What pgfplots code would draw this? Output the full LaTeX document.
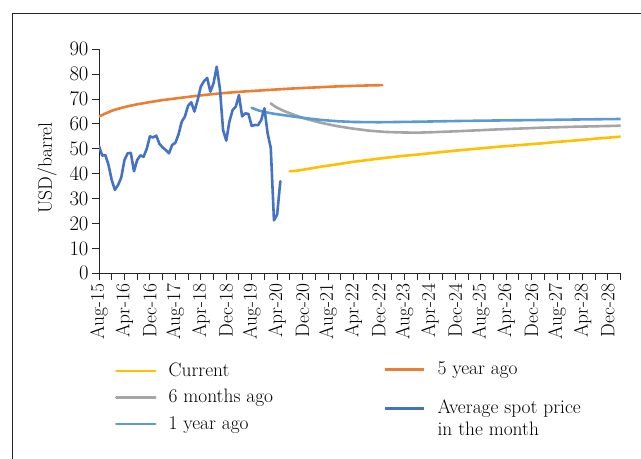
\documentclass[border=0pt]{standalone}
\usepackage{pgfplots}
\pgfplotsset{compat=1.18}
\definecolor{cur}{HTML}{FFC000}
\definecolor{sixm}{HTML}{A5A5A5}
\definecolor{oney}{HTML}{5B9BD5}
\definecolor{fivey}{HTML}{ED7D31}
\definecolor{spot}{HTML}{4472C4}
\newcommand{\bigf}{\fontsize{19.5}{21.5}\selectfont}
\begin{document}
\begin{tikzpicture}
\useasboundingbox (0,0) rectangle (641bp,-459bp);
\draw[line width=1.3bp, black!85] (12.3bp,-460bp) -- (12.3bp,-13.3bp) -- (642bp,-13.3bp);
\begin{axis}[
  at={(99bp,-273.3bp)}, anchor=south west,
  scale only axis, width=521.7bp, height=224bp,
  xmin=0, xmax=164, ymin=0, ymax=90,
  axis lines=left, axis line style={-, black!85, line width=1bp},
  xtick={0,8,...,160}, minor xtick={4,12,...,164},
  xticklabels={Aug-15,Apr-16,Dec-16,Aug-17,Apr-18,Dec-18,Aug-19,Apr-20,Dec-20,Aug-21,Apr-22,Dec-22,Aug-23,Apr-24,Dec-24,Aug-25,Apr-26,Dec-26,Aug-27,Apr-28,Dec-28},
  ytick={0,10,...,90},
  tick align=outside, major tick length=7bp, minor tick length=7bp,
  tick style={black!85, line width=1bp},
  tick label style={font=\bigf},
  xticklabel style={rotate=90, anchor=east},
  ylabel={USD/barrel},
  ylabel style={font=\bigf, at={(axis description cs:-0.0997,0.47)}, anchor=center, rotate=0},
  legend cell align=left,
  legend image code/.code={\draw[#1, line width=2.6bp] (0bp,0bp) -- (39bp,0bp);},
  legend style={at={(0.0307,-0.396)}, anchor=north west, draw=none, fill=none,
    inner sep=0pt, outer sep=0pt, row sep=8.5bp, column sep=12bp, font=\bigf,
    nodes={inner sep=0pt, text height=14bp, text depth=4bp}},
  every axis plot/.append style={line width=2.6bp, line join=round, line cap=round},
]
\addplot[cur] coordinates {(60,41.0)(62,41.2)(66,42.0)(70,42.9)(75,43.8)(80,44.8)(85,45.6)(90,46.4)(95,47.1)(100,47.7)(106,48.5)(113,49.4)(120,50.2)(125,50.8)(132,51.5)(139,52.2)(145,52.9)(150,53.4)(157,54.2)(164,54.9)};
\addlegendentry{Current}
\addplot[sixm] coordinates {(54,68.3)(55,67.3)(56,66.5)(58,65.3)(60,64.3)(63,62.9)(66,61.7)(70,60.4)(75,59.1)(80,58.1)(85,57.3)(90,56.8)(95,56.6)(100,56.5)(105,56.7)(113,57.1)(125,57.8)(139,58.5)(150,58.9)(164,59.3)};
\addlegendentry{6 months ago}
\addplot[oney] coordinates {(48,66.5)(50,65.5)(52,64.8)(55,64.1)(60,63.2)(65,62.3)(70,61.6)(75,61.1)(80,60.8)(88,60.7)(100,60.9)(113,61.2)(125,61.4)(139,61.6)(150,61.8)(164,62.0)};
\addlegendentry{1 year ago}
\addplot[fivey, forget plot] coordinates {(0,63.0)(2,64.2)(4,65.3)(6,66.1)(9,67.1)(12,67.9)(16,68.8)(20,69.6)(25,70.4)(30,71.2)(35,71.9)(40,72.5)(45,73.0)(50,73.4)(55,73.8)(60,74.2)(65,74.5)(70,74.8)(75,75.1)(80,75.3)(85,75.5)(89,75.6)};
\addplot[spot, forget plot] coordinates {(0,51.2)(1,47.3)(2,47.5)(3,43.5)(4,37.5)(5,33.5)(6,35.5)(7,38.5)(8,45.5)(9,48.2)(10,48.4)(11,41.0)(12,45.5)(13,47.4)(14,46.8)(15,50.0)(16,55.0)(17,54.6)(18,55.3)(19,52.0)(20,50.6)(21,49.5)(22,48.2)(23,51.6)(24,52.4)(25,55.8)(26,60.9)(27,63.0)(28,67.3)(29,68.7)(30,65.0)(31,69.6)(32,75.0)(33,77.2)(34,78.5)(35,73.0)(36,76.3)(37,83.0)(38,74.3)(39,57.6)(40,53.3)(41,61.0)(42,65.6)(43,67.0)(44,71.6)(45,63.0)(46,64.3)(47,64.0)(48,59.2)(49,59.6)(50,59.5)(51,61.6)(52,66.3)(53,56.3)(54,50.3)(55,21.3)(56,23.6)(57,37.0)};
\end{axis}
\begin{axis}[
  at={(99bp,-273.3bp)}, anchor=south west,
  scale only axis, width=521.7bp, height=224bp,
  xmin=0, xmax=1, ymin=0, ymax=1, hide axis,
  legend cell align=left,
  legend image code/.code={\draw[#1, line width=2.6bp] (0bp,0bp) -- (39bp,0bp);},
  legend style={at={(0.5463,-0.39)}, anchor=north west, draw=none, fill=none,
    inner sep=0pt, outer sep=0pt, row sep=21bp, column sep=12bp, font=\bigf,
    nodes={inner sep=0pt, text height=14bp, text depth=4bp}},
]
\addlegendimage{fivey}
\addlegendentry{5 year ago}
\addlegendimage{spot}
\addlegendentry{\begin{tabular}[t]{@{}l@{}}Average spot price\\in the month\end{tabular}}
\end{axis}
\end{tikzpicture}
\end{document}
